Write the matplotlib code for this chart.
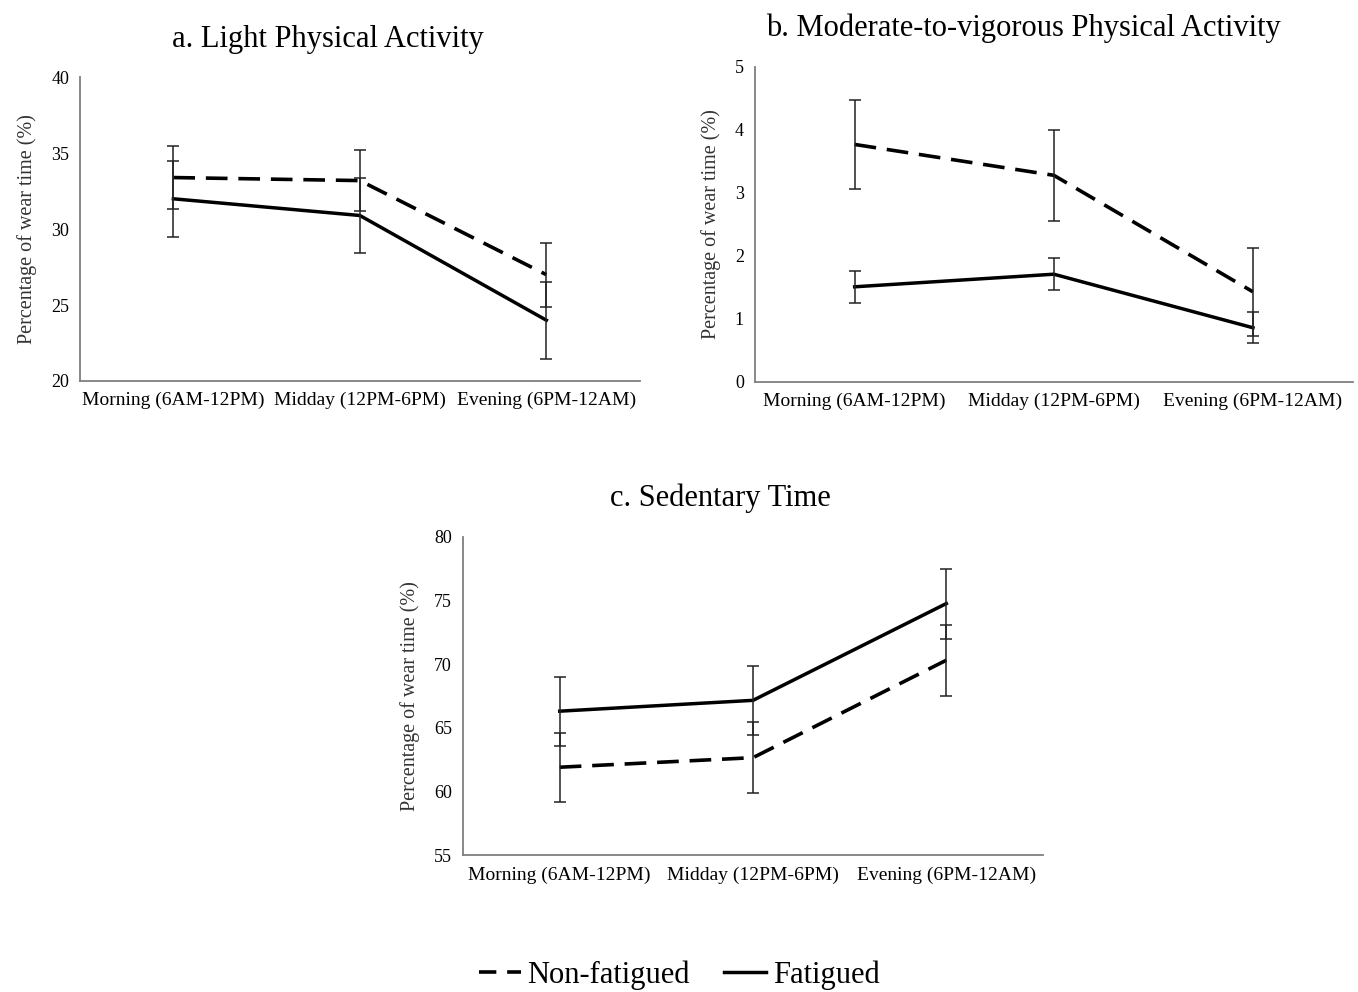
import numpy as np
import matplotlib
matplotlib.use("Agg")
import matplotlib.pyplot as plt
from matplotlib.lines import Line2D

plt.rcParams["font.family"] = ["Liberation Serif", "DejaVu Serif"]

# categories shared by all three panels
periods = ["Morning (6AM-12PM)", "Midday (12PM-6PM)", "Evening (6PM-12AM)"]

# a. light physical activity (% of wear time)
lpa_nonfat = [33.4, 33.2, 27.0]
lpa_nonfat_err = [2.1, 2.0, 2.1]
lpa_fat = [32.0, 30.9, 24.0]
lpa_fat_err = [2.5, 2.5, 2.55]

# b. moderate-to-vigorous physical activity
mvpa_nonfat = [3.77, 3.28, 1.43]
mvpa_nonfat_err = [0.71, 0.72, 0.70]
mvpa_fat = [1.51, 1.71, 0.86]
mvpa_fat_err = [0.25, 0.25, 0.25]

# c. sedentary time
sed_nonfat = [61.9, 62.65, 70.3]
sed_nonfat_err = [2.7, 2.8, 2.8]
sed_fat = [66.3, 67.15, 74.75]
sed_fat_err = [2.7, 2.7, 2.75]

# title, data, ylim, ticks, axes rect, title x (axes fraction)
panels = [
    ("a. Light Physical Activity", lpa_nonfat, lpa_nonfat_err, lpa_fat, lpa_fat_err,
     (20, 40), [20, 25, 30, 35, 40], [0.059, 0.616, 0.412, 0.306], 0.443),
    ("b. Moderate-to-vigorous Physical Activity", mvpa_nonfat, mvpa_nonfat_err, mvpa_fat, mvpa_fat_err,
     (0, 5), [0, 1, 2, 3, 4, 5], [0.556, 0.615, 0.440, 0.3175], 0.449),
    ("c. Sedentary Time", sed_nonfat, sed_nonfat_err, sed_fat, sed_fat_err,
     (55, 80), [55, 60, 65, 70, 75, 80], [0.341, 0.138, 0.427, 0.321], 0.443),
]

dash = (0, (6, 3))

fig = plt.figure(figsize=(13.58, 9.92), dpi=100)

for title, nf, nf_err, f, f_err, ylim, yticks, rect, tx in panels:
    ax = fig.add_axes(rect)
    x = np.arange(len(periods))
    ax.plot(x, nf, color="black", lw=2.6, linestyle=dash, zorder=2)
    ax.plot(x, f, color="black", lw=2.5, zorder=2)
    # error bars drawn separately, thin
    ax.errorbar(x, nf, yerr=nf_err, fmt="none", ecolor="#222222", elinewidth=1.1,
                capsize=4.5, capthick=1.1, zorder=3)
    ax.errorbar(x, f, yerr=f_err, fmt="none", ecolor="#222222", elinewidth=1.1,
                capsize=4.5, capthick=1.1, zorder=3)
    ax.set_xlim(-0.5, 2.5)
    ax.set_ylim(*ylim)
    ax.set_yticks(yticks)
    ax.set_xticks(x)
    ax.set_xticklabels(periods, fontsize=14)
    ax.tick_params(axis="both", length=0, pad=8)
    ax.tick_params(axis="y", labelsize=13)
    for s in ["top", "right"]:
        ax.spines[s].set_visible(False)
    for s in ["left", "bottom"]:
        ax.spines[s].set_color("#7f7f7f")
        ax.spines[s].set_linewidth(1.3)
    ax.set_ylabel("Percentage of wear time (%)", fontsize=14.5, color="#333333", labelpad=10)
    ax.set_title(title, fontsize=22, pad=22, x=tx)

handles = [Line2D([], [], color="black", lw=2.6, linestyle=(0, (4.8, 3))),
           Line2D([], [], color="black", lw=2.5)]
fig.legend(handles, ["Non-fatigued", "Fatigued"], loc="center", bbox_to_anchor=(0.5, 0.017),
           ncol=2, frameon=False, fontsize=22, handlelength=1.4, handletextpad=0.2,
           columnspacing=1.1)

fig.savefig("out.png", dpi=100, facecolor="white")
